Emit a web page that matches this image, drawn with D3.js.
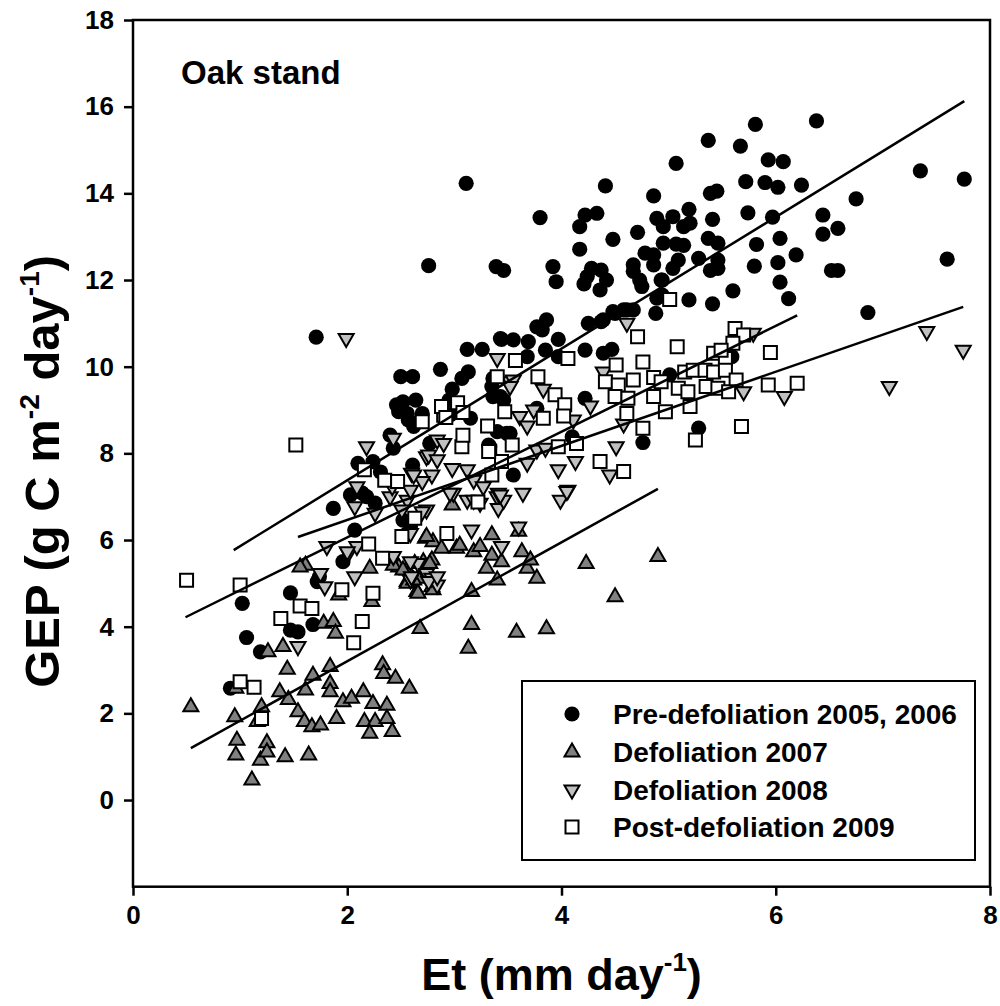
<!DOCTYPE html>
<html>
<head>
<meta charset="utf-8">
<script src="https://cdn.jsdelivr.net/npm/d3@7"></script>
<style>
  body { margin: 0; background: #fff; }
  svg text { font-family: "Liberation Sans", Arial, Helvetica, sans-serif; font-weight: bold; fill: #000; }
</style>
</head>
<body>
<svg id="chart" width="1000" height="1006"></svg>
<script>
// Et (mm day-1) vs GEP (g C m-2 day-1), one [Et, GEP] pair per day
const preDefoliation = [
  [6.38,15.67],[5.81,15.59],[5.37,15.22],[5.67,15.09],[5.07,14.69],[5.93,14.77],[6.07,14.73],[7.35,14.52],[7.76,14.33],
  [5.72,14.27],[5.90,14.25],[6.02,14.14],[6.24,14.19],[5.39,14.0],[5.45,14.05],[4.86,13.94],[6.75,13.87],[5.19,13.63],
  [4.89,13.42],[5.04,13.46],[5.14,13.23],[4.95,13.23],[5.2,13.31],[5.41,13.4],[5.74,13.55],[5.97,13.45],[6.44,13.5],
  [6.44,13.06],[6.58,13.19],[4.95,12.85],[5.07,12.83],[5.14,12.8],[5.37,12.96],[5.46,12.85],[5.82,12.82],[6.04,12.96],
  [6.19,12.58],[4.86,12.58],[4.86,12.35],[5.09,12.46],[5.04,12.27],[5.28,12.5],[5.46,12.46],[5.39,12.22],[5.46,12.27],
  [5.8,12.32],[6.02,12.4],[6.52,12.22],[6.58,12.22],[7.6,12.48],[4.94,12.0],[6.04,11.95],[5.6,11.75],[5.19,11.54],
  [5.41,11.45],[6.12,11.57],[4.89,11.58],[4.88,11.23],[6.86,11.25],
  [3.11,14.23],[4.41,14.17],[3.8,13.44],[4.22,13.5],[4.33,13.54],[4.17,13.23],[4.48,12.94],[4.71,13.1],[4.17,12.71],
  [4.78,12.62],[2.76,12.33],[3.39,12.31],[3.46,12.22],[3.92,12.31],[3.95,11.96],[4.28,12.27],[4.37,12.23],[4.24,12.08],
  [4.42,12.0],[4.21,11.91],[4.36,11.77],[4.67,12.35],[4.67,12.2],[4.73,12.0],[4.75,11.85],[4.93,12.0],[4.61,11.31],
  [4.48,11.27],[4.39,11.08],[4.25,11.0],[3.86,11.08],[3.77,10.92],[4.94,11.65],
  [1.71,10.68],[2.5,9.77],[2.61,9.77],[2.87,9.94],[3.12,10.4],[3.26,10.4],[3.44,10.63],[3.13,9.88],[3.07,9.73],
  [2.98,9.48],[2.95,9.23],[2.52,9.19],[2.64,9.23],[2.48,8.96],[2.57,8.77],[2.7,8.92],[2.62,8.62],[3.36,9.31],
  [3.46,9.23],[3.15,8.81],[2.96,8.89],[2.4,8.42],[2.43,8.12],[3.4,8.5],[3.49,8.46],[2.77,8.23],[2.1,7.77],[2.24,7.81],
  [2.61,7.73],[3.32,8.19],[2.03,7.04],[2.14,7.08],[2.26,6.85],[1.87,6.73],[2.07,6.23],[2.52,6.46],[2.59,6.31],
  [1.96,5.5],[1.74,5.15],[1.47,4.78],[2.31,7.57],[2.18,7.0],[2.46,9.12],[2.56,8.92],
  [1.02,4.54],[1.06,3.75],[1.19,3.42],[1.47,3.92],[1.54,3.88],[1.68,4.05],[0.91,2.58],[1.72,5.04],
  [3.43,10.65],[3.55,10.62],[3.69,10.58],[3.82,10.85],[3.97,10.63],[4.37,11.04],[4.5,11.23],[4.58,11.31],[4.67,11.31],
  [3.68,10.23],[3.85,10.38],[3.97,10.23],[4.22,10.38],[4.39,10.31],[4.47,10.4],[3.35,9.54],[3.43,9.31],[4.22,9.27],
  [5.01,9.81],[3.77,9.04],[3.52,8.46],[3.33,8.15],[4.1,8.38],[3.55,7.5],[5.59,10.23],[5.28,8.58],[4.76,8.25],[3.36,9.73]
];

const defoliation2007 = [
  [0.54,2.15],[0.96,2.58],[0.95,1.92],[0.97,1.38],[0.96,1.04],[1.11,0.46],[1.19,0.92],[1.25,1.32],[1.25,1.11],
  [1.2,2.15],[1.16,1.81],[1.42,1.0],[1.64,1.04],[1.37,2.5],[1.45,2.32],[1.54,2.04],[1.6,1.81],[1.67,1.69],[1.75,1.73],
  [1.44,3.02],[1.4,3.54],[1.26,3.42],[1.61,2.54],[1.68,2.88],[1.84,3.08],[1.84,2.69],[1.84,2.5],[1.9,1.88],[1.96,2.27],
  [2.04,2.35],[2.15,2.5],[1.78,4.08],[1.87,4.12],[1.89,3.85],[2.24,2.23],[2.37,2.19],[2.16,1.81],[2.26,1.81],[2.37,1.88],
  [2.42,1.58],[2.21,1.54],[2.33,3.12],[2.34,2.92],[2.45,2.81],[2.58,2.58],[2.68,3.96],[2.65,4.81],[2.79,4.92],[2.56,5.04],
  [1.61,5.42],[1.56,5.38],[2.21,5.35],[1.92,4.73],[2.23,4.58],[2.48,5.38],[2.56,5.31],[2.63,5.46],[2.71,5.5],[2.79,5.54],
  [2.66,5.12],[2.56,5.0],[2.66,4.77],
  [2.73,6.04],[2.8,5.96],[2.88,5.81],[3.02,5.81],[3.05,5.88],[3.18,5.73],[3.24,5.85],[3.35,6.12],[3.35,5.65],[3.44,5.5],
  [3.3,5.35],[3.4,5.08],[3.16,4.81],[3.63,5.73],[3.68,5.35],[3.77,5.12],[3.71,5.54],[4.23,5.46],[4.9,5.62],[4.5,4.69],
  [3.16,4.05],[3.13,3.5],[3.58,3.87],[3.86,3.95],[2.98,6.81],[3.6,6.2],[2.74,6.08],[2.43,5.42],[2.52,5.31],[2.62,5.08],
  [2.77,5.46],[2.8,4.85]
];

const defoliation2008 = [
  [1.99,10.65],[3.4,10.19],[2.18,8.15],[2.43,8.35],[2.09,7.23],[2.07,6.77],[2.26,6.62],[2.4,7.0],[2.6,7.54],[2.74,7.92],
  [2.84,8.31],[2.9,8.23],[2.79,7.5],[2.7,7.35],[2.56,6.92],[2.51,6.69],[2.98,7.65],[3.12,7.62],[3.18,7.38],[3.12,6.92],
  [3.27,7.23],[3.4,7.0],[3.41,6.73],[3.24,6.85],[3.46,6.92],[2.74,6.69],[2.59,6.15],[3.16,6.23],[3.52,9.65],
  [2.76,7.96],[2.84,7.85],[2.62,7.5],[1.81,5.85],[2.01,5.69],[2.09,5.85],[1.75,5.23],[1.79,4.92],[2.07,5.15],[2.43,5.62],
  [2.59,5.08],[2.66,5.46],[2.74,5.23],[2.79,5.12],[2.84,4.96],[2.7,6.65],[2.99,7.08],
  [4.61,11.0],[3.55,9.69],[3.52,9.54],[3.83,9.48],[3.74,9.0],[3.61,8.85],[3.68,8.63],[4.11,8.77],[4.27,9.09],[4.39,9.88],
  [4.58,8.68],[4.51,8.15],[3.77,8.08],[3.85,8.12],[3.68,7.77],[3.97,7.62],[4.13,7.81],[4.45,7.5],[4.06,7.15],[3.99,6.92],
  [3.64,7.08],[3.41,7.08],[3.6,6.3],[5.7,9.42],[5.79,10.77],
  [2.42,7.23],[2.59,7.15],[2.96,7.08],[3.18,6.92],[3.43,7.04],[4.05,7.12],[3.44,5.85],[2.0,5.73],[2.59,5.5],[2.6,5.15],
  [2.76,5.04],[2.84,5.15],[6.08,9.31],[7.06,9.54],[7.41,10.81],[7.75,10.38],[1.54,3.54]
];

const postDefoliation2009 = [
  [0.5,5.07],[1.0,4.96],[1.95,4.85],[2.24,4.77],[1.56,4.48],[1.67,4.42],[1.38,4.19],[2.14,4.12],[2.06,3.63],[1.0,2.73],
  [1.13,2.6],[1.2,1.88],[1.52,8.19],[2.16,7.62],[2.35,7.38],[2.47,7.35],[2.63,6.5],[2.51,6.08],[2.2,5.91],[2.33,5.58],
  [2.9,8.88],[2.7,8.73],[2.93,6.15],
  [3.4,9.77],[2.88,9.08],[3.03,9.17],[3.08,8.94],[2.92,8.83],[3.31,8.63],[3.07,8.15],[3.33,8.05],[3.44,7.81],[3.35,7.5],
  [3.22,6.88],[3.08,8.42],
  [5.01,11.55],[4.71,10.69],[5.08,10.46],[5.62,10.88],[5.7,10.73],[5.6,10.54],[5.95,10.33],[4.06,10.19],[3.57,10.14],
  [3.78,9.77],[3.94,9.35],[4.03,9.12],[4.02,8.86],[3.83,8.81],[3.47,8.96],
  [4.51,10.04],[4.76,10.11],[4.41,9.65],[4.53,9.58],[4.67,9.69],[4.86,9.75],[4.93,9.65],[4.5,9.31],[4.62,9.27],[4.86,9.31],
  [4.61,8.92],[4.97,8.96],[5.09,9.5],[5.18,9.42],[5.15,9.88],[5.23,9.92],[5.2,9.08],[5.34,9.92],[5.42,10.31],[5.53,10.19],
  [5.42,9.88],[5.53,9.92],[5.63,9.69],[5.35,9.54],[5.46,9.5],[5.56,9.42],[5.49,10.38],[5.93,9.58],[4.76,8.58],[5.25,8.31],
  [5.68,8.62],[4.36,7.81],[4.58,7.58],[4.14,8.23],[3.97,8.15],[3.54,8.19],[3.32,8.04],[6.2,9.62]
];

// linear fits per period: GEP = slope * Et + intercept, drawn over [fitFrom, fitTo]
const seriesNames   = ["Pre-defoliation 2005, 2006", "Defoliation 2007", "Defoliation 2008", "Post-defoliation 2009"];
const fitSlope      = [1.519, 1.372, 0.855, 1.22];
const fitIntercept  = [4.34, 0.459, 4.753, 3.62];
const fitFrom       = [0.94, 0.54, 1.54, 0.49];
const fitTo         = [7.76, 4.90, 7.75, 6.20];

const xTicks = [0, 2, 4, 6, 8];
const yTicks = [0, 2, 4, 6, 8, 10, 12, 14, 16, 18];

const svg = d3.select("#chart");
const plotLeft = 133, plotRight = 990, plotTop = 20, plotBottom = 886.7;
const x = d3.scaleLinear().domain([0, 8]).range([plotLeft, plotRight]);
const y = d3.scaleLinear().domain([-2, 18]).range([plotBottom, plotTop]);

// marker styles per series
const marks = [
  { data: preDefoliation,      shape: "circle", fill: "#000" },
  { data: defoliation2007,     shape: "up",     fill: "#808080" },
  { data: defoliation2008,     shape: "down",   fill: "#c0c0c0" },
  { data: postDefoliation2009, shape: "square", fill: "#fff" }
];

const shapePath = {
  up:     "M0,-8.5L7.5,4.5L-7.5,4.5Z",
  down:   "M0,8.5L7.5,-4.5L-7.5,-4.5Z",
  square: "M-6.5,-6.5H6.5V6.5H-6.5Z"
};

function drawMark(g, shape, fill) {
  if (shape === "circle") {
    g.append("circle").attr("r", 7.6).attr("fill", fill);
  } else {
    g.append("path").attr("d", shapePath[shape]).attr("fill", fill)
      .attr("stroke", "#000").attr("stroke-width", 2).attr("stroke-linejoin", "miter");
  }
}

// scatter points
marks.forEach(m => {
  const layer = svg.append("g");
  m.data.forEach(d => {
    const g = layer.append("g").attr("transform", `translate(${x(d[0])},${y(d[1])})`);
    drawMark(g, m.shape, m.fill);
  });
});

// regression lines
const fitLine = d3.line().x(d => x(d[0])).y(d => y(d[1]));
seriesNames.forEach((name, i) => {
  const pts = [fitFrom[i], fitTo[i]].map(v => [v, fitSlope[i] * v + fitIntercept[i]]);
  svg.append("path").attr("d", fitLine(pts)).attr("fill", "none")
    .attr("stroke", "#000").attr("stroke-width", 2.5);
});

// frame
svg.append("rect").attr("x", plotLeft).attr("y", plotTop)
  .attr("width", plotRight - plotLeft).attr("height", plotBottom - plotTop)
  .attr("fill", "none").attr("stroke", "#000").attr("stroke-width", 2.5);

// axes
const yAxis = svg.append("g").attr("transform", `translate(${plotLeft},0)`)
  .call(d3.axisLeft(y).tickValues(yTicks).tickSize(9).tickPadding(10).tickFormat(d3.format("d")));
const xAxis = svg.append("g").attr("transform", `translate(0,${plotBottom})`)
  .call(d3.axisBottom(x).tickValues(xTicks).tickSize(9).tickPadding(10).tickFormat(d3.format("d")));
[yAxis, xAxis].forEach(a => {
  a.select(".domain").remove();
  a.selectAll(".tick line").attr("stroke", "#000").attr("stroke-width", 2.5);
  a.selectAll(".tick text").attr("font-size", 26).attr("font-family", null);
});

// axis titles
const xt = svg.append("text").attr("x", (plotLeft + plotRight) / 2).attr("y", 990)
  .attr("text-anchor", "middle").attr("font-size", 45);
xt.append("tspan").text("Et (mm day");
xt.append("tspan").attr("font-size", 26).attr("dy", -19).text("-1");
xt.append("tspan").attr("dy", 19).text(")");

const yt = svg.append("text").attr("transform", `translate(59,${(plotTop + plotBottom) / 2 + 18}) rotate(-90)`)
  .attr("text-anchor", "middle").attr("font-size", 49);
yt.append("tspan").text("GEP (g C m");
yt.append("tspan").attr("font-size", 28).attr("dy", -20).text("-2");
yt.append("tspan").attr("dy", 20).text(" day");
yt.append("tspan").attr("font-size", 28).attr("dy", -20).text("-1");
yt.append("tspan").attr("dy", 20).text(")");

// panel label
svg.append("text").attr("x", 181).attr("y", 84).attr("font-size", 33).text("Oak stand");

// legend
const lg = svg.append("g");
lg.append("rect").attr("x", 522).attr("y", 681).attr("width", 453).attr("height", 179)
  .attr("fill", "#fff").attr("stroke", "#000").attr("stroke-width", 2);
const rowY = [714, 752, 790, 827];
marks.forEach((m, i) => {
  const g = lg.append("g").attr("transform", `translate(572,${rowY[i]})`);
  drawMark(g, m.shape, m.fill);
  lg.append("text").attr("x", 613).attr("y", rowY[i] + 10).attr("font-size", 28).text(seriesNames[i]);
});
</script>
</body>
</html>
